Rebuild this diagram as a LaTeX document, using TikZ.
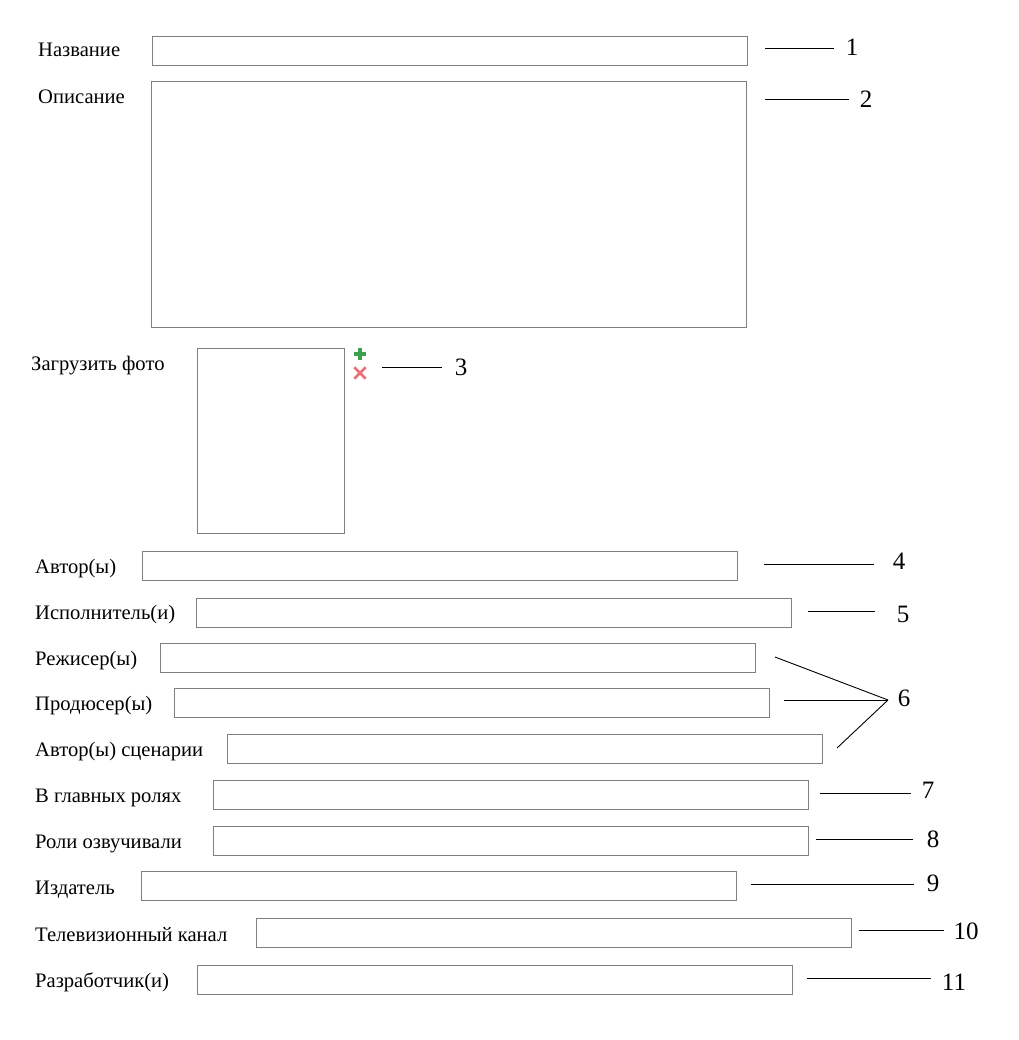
\documentclass[tikz,border=0pt]{standalone}
\usepackage{fontspec}
\setmainfont{Liberation Serif}
\begin{document}
\begin{tikzpicture}[x=1pt,y=-1pt,
  field/.style={draw=black!50,line width=0.9pt,inner sep=0pt,anchor=north west},
  lbl/.style={anchor=base west,inner sep=0pt,font=\fontsize{20.6}{22}\selectfont},
  num/.style={anchor=center,inner sep=0pt,font=\fontsize{25}{28}\selectfont},
  lead/.style={draw=black,line width=0.9pt}]
\useasboundingbox[fill=white] (0,0) rectangle (1018,1040);
% fields
\node[field,minimum width=595pt,minimum height=29pt] (f1) at (152,36) {};
\node[field,minimum width=595pt,minimum height=246pt] (f2) at (151,81) {};
\node[field,minimum width=147pt,minimum height=185pt] (f3) at (197,348) {};
\node[field,minimum width=595pt,minimum height=29pt] (f4) at (142,551) {};
\node[field,minimum width=595pt,minimum height=29pt] (f5) at (196,598) {};
\node[field,minimum width=595pt,minimum height=29pt] (f6a) at (160,643) {};
\node[field,minimum width=595pt,minimum height=29pt] (f6b) at (174,688) {};
\node[field,minimum width=595pt,minimum height=29pt] (f6c) at (227,734) {};
\node[field,minimum width=595pt,minimum height=29pt] (f7) at (213,780) {};
\node[field,minimum width=595pt,minimum height=29pt] (f8) at (213,826) {};
\node[field,minimum width=595pt,minimum height=29pt] (f9) at (141,871) {};
\node[field,minimum width=595pt,minimum height=29pt] (f10) at (256,918) {};
\node[field,minimum width=595pt,minimum height=29pt] (f11) at (197,965) {};
% labels
\node[lbl] (l1) at (38,57) {Название};
\node[lbl] (l2) at (38,104) {Описание};
\node[lbl] (l3) at (31,370) {Загрузить фото};
\node[lbl] (l4) at (35,573) {Автор(ы)};
\node[lbl] (l5) at (35,619) {Исполнитель(и)};
\node[lbl] (l6a) at (35,665) {Режисер(ы)};
\node[lbl] (l6b) at (35,710) {Продюсер(ы)};
\node[lbl] (l6c) at (35,756) {Автор(ы) сценарии};
\node[lbl] (l7) at (35,802) {В главных ролях};
\node[lbl] (l8) at (35,848) {Роли озвучивали};
\node[lbl] (l9) at (35,894) {Издатель};
\node[lbl] (l10) at (35,941) {Телевизионный канал};
\node[lbl] (l11) at (35,987) {Разработчик(и)};
% icons
\node[inner sep=0pt,minimum size=12pt] (plus) at (360,354) {};
\draw[draw={rgb,255:red,60;green,160;blue,80},line width=3.2pt] (plus.north) -- (plus.south) (plus.west) -- (plus.east);
\node[inner sep=0pt,minimum size=11pt] (cross) at (360,373) {};
\draw[draw={rgb,255:red,235;green,110;blue,120},line width=2.8pt] (cross.north west) -- (cross.south east) (cross.north east) -- (cross.south west);
% numbers
\node[num] (n1) at (852,47) {1};
\node[num] (n2) at (866,99) {2};
\node[num] (n3) at (461,367) {3};
\node[num] (n4) at (899,561) {4};
\node[num] (n5) at (903,614) {5};
\node[num] (n6) at (904,698) {6};
\node[num] (n7) at (928,790) {7};
\node[num] (n8) at (933,839) {8};
\node[num] (n9) at (933,883) {9};
\node[num] (n10) at (966,931) {10};
\node[num] (n11) at (954,982) {11};
% leader coordinates
\coordinate (a1) at (765,48); \coordinate (b1) at (834,48);
\coordinate (a2) at (765,99); \coordinate (b2) at (849,99);
\coordinate (a3) at (382,367); \coordinate (b3) at (442,367);
\coordinate (a4) at (764,564); \coordinate (b4) at (874,564);
\coordinate (a5) at (808,611); \coordinate (b5) at (875,611);
\coordinate (a6a) at (775,657); \coordinate (a6b) at (784,700); \coordinate (a6c) at (837,748);
\coordinate (b6) at (888,700);
\coordinate (a7) at (820,793); \coordinate (b7) at (911,793);
\coordinate (a8) at (816,839); \coordinate (b8) at (913,839);
\coordinate (a9) at (751,884); \coordinate (b9) at (914,884);
\coordinate (a10) at (859,930); \coordinate (b10) at (944,930);
\coordinate (a11) at (807,978); \coordinate (b11) at (931,978);
\draw[lead] (a1) -- (b1);
\draw[lead] (a2) -- (b2);
\draw[lead] (a3) -- (b3);
\draw[lead] (a4) -- (b4);
\draw[lead] (a5) -- (b5);
\draw[lead] (a6a) -- (b6);
\draw[lead] (a6b) -- (b6);
\draw[lead] (a6c) -- (b6);
\draw[lead] (a7) -- (b7);
\draw[lead] (a8) -- (b8);
\draw[lead] (a9) -- (b9);
\draw[lead] (a10) -- (b10);
\draw[lead] (a11) -- (b11);
\end{tikzpicture}
\end{document}
